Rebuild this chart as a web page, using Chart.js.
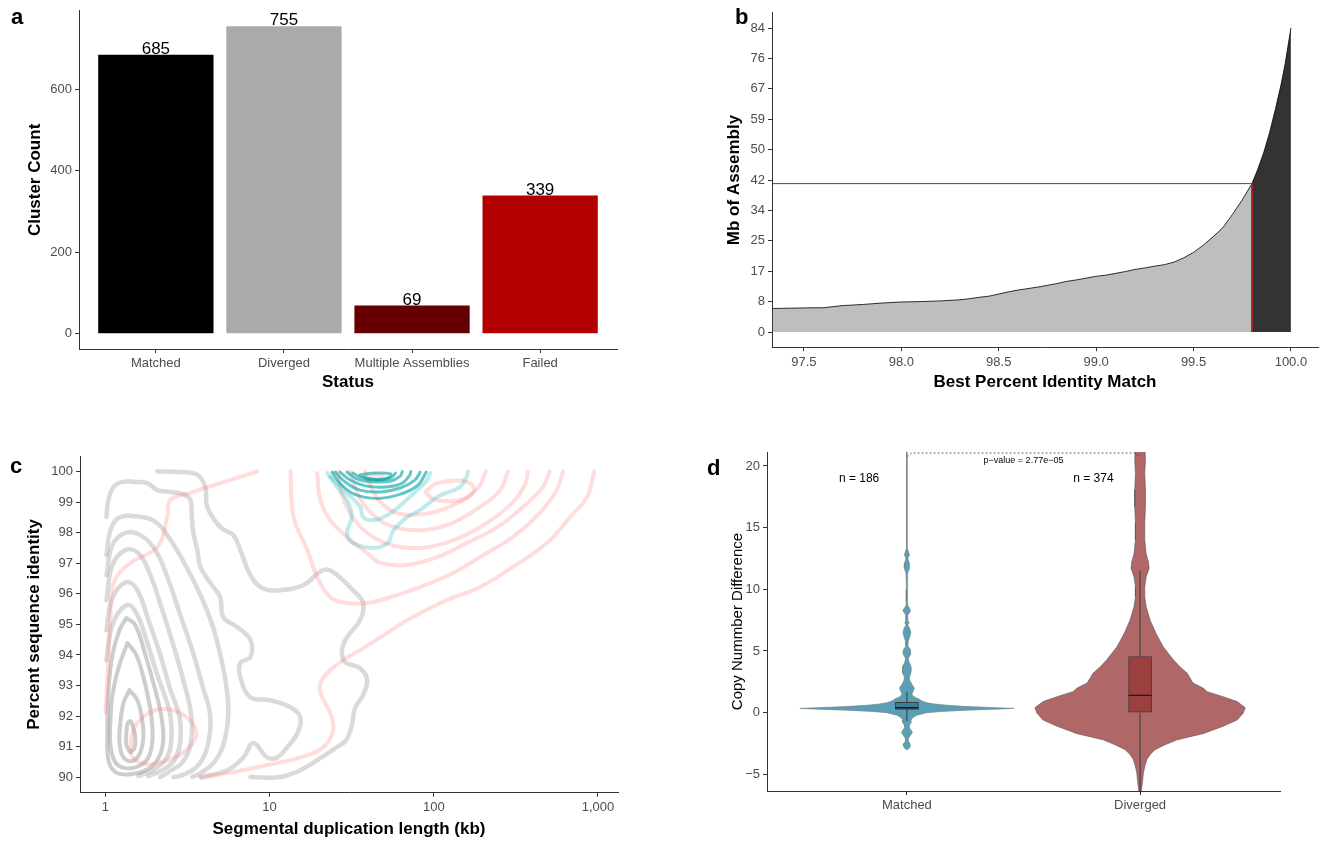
<!DOCTYPE html>
<html>
<head>
<meta charset="utf-8">
<title>Assembly comparison panels</title>
<script src="https://cdn.jsdelivr.net/npm/chart.js@4.4.1/dist/chart.umd.min.js"></script>
<style>
  html, body { margin: 0; background: #fff; }
  body { width: 1323px; height: 842px; position: relative; overflow: hidden; font-family: "Liberation Sans", Arial, sans-serif; }
  .panel { position: absolute; }
  .tag { position: absolute; font-weight: bold; font-size: 22px; line-height: 1; color: #000; }
</style>
</head>
<body>
<div class="panel" style="left:0;top:0;width:660px;height:410px"><canvas id="countChart"></canvas></div>
<div class="panel" style="left:660px;top:0;width:663px;height:410px"><canvas id="identityChart"></canvas></div>
<div class="panel" style="left:0;top:420px;width:660px;height:422px"><canvas id="contourChart"></canvas></div>
<div class="panel" style="left:660px;top:420px;width:663px;height:422px"><canvas id="violinChart"></canvas></div>
<div class="tag" style="left:11px;top:6px">a</div>
<div class="tag" style="left:735px;top:6px">b</div>
<div class="tag" style="left:10px;top:455px">c</div>
<div class="tag" style="left:707px;top:457px">d</div>
<script>
// ---- panel a: cluster status counts ----
const statusLabels = ["Matched", "Diverged", "Multiple Assemblies", "Failed"];
const clusterCounts = [685, 755, 69, 339];
const statusColors = ["#000000", "#aaaaaa", "#660000", "#b20000"];
const countTicks = [0, 200, 400, 600];

// ---- panel b: cumulative Mb by best identity ----
const identityMatch = [97.34, 97.45, 97.55, 97.6, 97.65, 97.7, 97.8, 97.9, 98.0, 98.1, 98.2, 98.3, 98.35, 98.4, 98.45,
  98.5, 98.55, 98.6, 98.65, 98.7, 98.75, 98.8, 98.85, 98.9, 98.95, 99.0, 99.05, 99.1, 99.15, 99.2, 99.25, 99.3,
  99.35, 99.4, 99.45, 99.5, 99.55, 99.6, 99.65, 99.7, 99.75, 99.8, 99.83, 99.86, 99.89, 99.92, 99.95, 99.97, 99.985, 100.0];
const assemblyMb = [6.5, 6.6, 6.7, 6.7, 7.0, 7.3, 7.6, 8.0, 8.3, 8.4, 8.6, 8.9, 9.2, 9.6, 9.9,
  10.5, 11.1, 11.6, 12.0, 12.4, 12.9, 13.4, 14.0, 14.4, 14.9, 15.4, 15.7, 16.2, 16.7, 17.3, 17.7, 18.2,
  18.6, 19.3, 20.5, 22.0, 24.0, 26.3, 28.8, 32.5, 36.5, 41.0, 45.0, 49.5, 55.0, 61.5, 68.5, 74.0, 79.0, 84.0];
const identityCutoff = 99.8;
const cutoffMb = 41;
const identityTicks = [97.5, 98.0, 98.5, 99.0, 99.5, 100.0];
const identityTickLabels = ["97.5", "98.0", "98.5", "99.0", "99.5", "100.0"];
const mbTicks = [0, 8.4, 16.8, 25.2, 33.6, 42, 50.4, 58.8, 67.2, 75.6, 84];
const mbTickLabels = ["0", "8", "17", "25", "34", "42", "50", "59", "67", "76", "84"];

// ---- panel c: density contours, [length kb, percent identity] ----
const grayContours = [
  [[1.419,90.82],[1.342,91.05],[1.342,91.44],[1.361,91.74],[1.419,91.84],[1.480,91.61],[1.522,91.28],[1.501,90.95],[1.419,90.82]],
  [[1.400,92.85],[1.565,92.52],[1.656,92.03],[1.703,91.38],[1.633,90.82],[1.460,90.53],[1.287,90.65],[1.217,91.15],[1.234,91.80],[1.287,92.42],[1.400,92.85]],
  [[1.361,94.39],[1.544,94.00],[1.751,93.01],[1.905,92.00],[1.932,91.21],[1.827,90.65],[1.588,90.36],[1.323,90.30],[1.150,90.49],[1.073,91.05],[1.073,91.87],[1.103,92.69],[1.200,93.57],[1.361,94.39]],
  [[1.342,95.21],[1.522,94.98],[1.751,94.00],[2.014,92.85],[2.19,92.00],[2.25,91.21],[2.10,90.62],[1.801,90.26],[1.419,90.10],[1.150,90.17],[1.043,90.56],[1.028,91.54],[1.043,92.85],[1.103,94.00],[1.217,94.81],[1.342,95.21]],
  [[1.014,93.83],[1.103,94.98],[1.342,95.63],[1.544,95.37],[1.776,94.49],[2.071,93.34],[2.35,92.52],[2.49,92.00],[2.52,91.21],[2.35,90.62],[1.932,90.23],[1.588,90.04]],
  [[1.014,94.81],[1.103,95.86],[1.342,96.38],[1.565,96.12],[1.827,95.14],[2.16,94.00],[2.49,92.85],[2.82,92.00],[2.86,91.21],[2.63,90.56],[2.16,90.20],[1.827,90.04]],
  [[1.014,95.79],[1.103,96.94],[1.323,97.43],[1.588,97.33],[1.878,96.61],[2.22,95.47],[2.59,94.33],[2.98,93.18],[3.34,92.00],[3.29,91.05],[2.94,90.49],[2.42,90.17],[2.16,90.01]],
  [[1.014,96.61],[1.103,97.59],[1.323,97.99],[1.633,97.92],[2.014,97.43],[2.42,96.45],[2.86,95.30],[3.38,94.16],[3.89,93.01],[4.35,92.00],[4.17,90.98],[3.63,90.36],[2.94,90.07],[2.59,90.01]],
  [[1.014,97.27],[1.073,98.08],[1.200,98.48],[1.522,98.54],[2.014,98.35],[2.49,97.76],[3.07,96.94],[3.79,95.96],[4.48,94.98],[5.01,94.00],[5.44,93.01],[5.60,92.03],[5.22,91.05],[4.54,90.46],[3.79,90.14],[3.38,90.01]],
  [[1.014,98.51],[1.043,99.07],[1.119,99.49],[1.269,99.66],[1.522,99.66],[1.801,99.62],[2.071,99.39],[2.49,99.33],[2.98,99.26],[3.29,99.07],[3.36,98.5],[3.43,97.99],[3.63,97.43],[3.79,96.88],[4.54,96.22],[5.01,95.89],[5.22,95.24],[6.36,94.91],[7.64,94.49],[7.64,93.93],[6.63,93.74],[6.63,93.28],[7.64,92.62],[10.1,92.52],[13.4,92.29],[15.4,91.96],[14.75,91.44],[12.8,90.98],[11.1,90.65],[9.68,90.65],[7.96,91.12],[6.92,90.65],[5.52,90.23],[3.79,90.01]],
  [[2.07,100],[2.86,99.98],[3.63,99.89],[4.06,99.49],[4.17,98.84],[5.01,98.18],[6.01,97.92],[6.63,97.43],[7.64,96.61],[9.01,96.19],[11.6,96.12],[16.1,96.29],[21.2,96.78],[24.4,96.71],[32.2,96.12],[37.1,95.70],[35.6,95.14],[29.6,94.58],[27.6,94.16],[28.8,93.77],[35.6,93.57],[39.3,93.18],[37.1,92.69],[33.1,92.26],[31.7,91.70],[29.2,91.21],[25.1,90.95],[19.5,90.56],[15.4,90.23],[11.6,90.01],[7.64,90.01]],
];
const redContours = [
  [[1.00,92.10],[1.028,93.18],[1.073,95.24],[1.119,96.35],[1.419,97.01],[2.071,97.53],[2.385,98.51],[2.49,99.07],[3.29,99.30],[5.01,99.62],[8.42,100]],
  [[1.419,90.82],[1.480,91.54],[1.751,92.03],[2.22,92.23],[2.86,92.10],[3.38,91.77],[3.58,91.38],[3.20,90.95],[2.56,90.62],[1.878,90.43],[1.522,90.56],[1.419,90.82]],
  [[3.84,89.98],[6.01,90.17],[9.68,90.40],[15.4,90.65],[21.2,90.98],[24.4,91.54],[23.4,92.10],[20.4,92.75],[20.4,93.08],[22.5,93.41],[28.0,93.83],[35.6,94.16],[47.4,94.58],[74.6,95.24],[120,95.79],[191,96.22],[304,96.88],[489,97.66],[677,98.51],[859,99.17],[948,100]],
  [[13.4,100],[14.0,98.51],[17.0,97.43],[19.5,96.55],[23.4,95.89],[29.6,95.70],[39.3,95.70],[54.6,95.89],[82.6,96.22],[131,96.68],[191,97.20],[304,97.86],[442,98.64],[560,99.39],[613,100]],
  [[19.5,99.95],[20.4,99.07],[23.4,98.41],[29.6,97.86],[39.3,97.33],[47.4,97.01],[68.8,96.94],[105,97.20],[159,97.66],[244,98.18],[349,98.84],[462,99.49],[508,100]],
  [[26.1,100],[28.0,99.13],[33.6,98.35],[46.1,97.76],[71.5,97.50],[117,97.66],[191,98.18],[292,98.90],[359,99.56],[374,100]],
  [[30.9,100],[34.1,99.30],[41.1,98.67],[54.6,98.22],[82.6,98.08],[125,98.28],[191,98.84],[254,99.39],[283,100]],
  [[38.2,100],[42.3,99.39],[49.5,98.90],[62.5,98.61],[95.3,98.64],[144,99.00],[186,99.46],[208,100]],
  [[88.8,99.33],[102,99.59],[125,99.69],[159,99.66],[176,99.43],[157,99.13],[125,99.03],[99.6,99.10],[88.8,99.33]],
  [[41.1,99.82],[44.8,99.89],[48.8,99.82],[44.8,99.75],[41.1,99.82]],
];
const tealContours = [
  [[22.5,99.95],[25.8,99.49],[29.6,99.07],[31.7,98.51],[29.6,97.99],[32.2,97.66],[42.9,97.50],[52.3,97.66],[56.9,98.08],[68.8,98.51],[82.6,98.74],[105,99.17],[144,99.49],[159,99.85],[162,100]],
  [[23.4,99.83],[29.6,99.30],[35.6,98.84],[37.1,98.51],[42.9,98.41],[52.3,98.58],[65.2,98.97],[79.0,99.39],[91.3,99.72],[95.3,99.95]],
  [[24.0,99.98],[27.0,99.60],[33.0,99.25],[45.0,99.12],[62.0,99.25],[80.0,99.55],[90.0,99.98]],
  [[25.1,99.98],[28.8,99.66],[35.6,99.39],[47.4,99.33],[62.5,99.46],[76.7,99.72],[82.6,99.98]],
  [[26.9,99.98],[30.9,99.72],[38.2,99.53],[50.9,99.49],[64.3,99.62],[71.5,99.89],[72.5,100]],
  [[29.6,99.98],[34.1,99.75],[42.3,99.66],[54.6,99.69],[62.5,99.85],[64.3,100]],
  [[32.2,99.95],[36.6,99.79],[45.4,99.72],[54.6,99.79],[58.5,99.95]],
  [[35.6,99.89],[39.9,99.77],[46.1,99.74],[53.1,99.80],[54.6,99.92],[44.1,99.95],[35.6,99.89]],
];
const lengthTicks = [1, 10, 100, 1000];
const lengthTickLabels = ["1", "10", "100", "1,000"];
const percentTicks = [90, 91, 92, 93, 94, 95, 96, 97, 98, 99, 100];

// ---- panel d: copy number difference violins ----
const groupLabels = ["Matched", "Diverged"];
const groupCounts = [186, 374];
const matchedDensityY = [-3.0, -2.9, -2.7, -2.5, -2.3, -2.1, -1.8, -1.6, -1.4, -1.2, -1.0, -0.8, -0.6, -0.4, -0.2, 0.0, 0.1, 0.2, 0.3, 0.35,
  0.4, 0.5, 0.6, 0.7, 0.8, 0.95, 1.1, 1.3, 1.5, 1.7, 2.0, 2.3, 2.6, 2.9, 3.2, 3.5, 3.8, 4.1, 4.4, 4.7,
  4.9, 5.1, 5.4, 5.8, 6.2, 6.5, 6.8, 7.1, 7.3, 7.5, 7.9, 8.2, 8.4, 8.7, 9.0, 10.0, 11.3, 11.7, 12.1, 12.5, 12.8, 13.1, 13.4, 21.2];
const matchedDensityW = [0, 0.009, 0.015, 0.013, 0.006, 0.006, 0.017, 0.024, 0.017, 0.009, 0.011, 0.019, 0.017, 0.026, 0.043, 0.086, 0.150, 0.258, 0.408, 0.459,
  0.386, 0.258, 0.172, 0.120, 0.086, 0.064, 0.052, 0.030, 0.021, 0.026, 0.032, 0.021, 0.013, 0.011, 0.017, 0.019, 0.017, 0.009, 0.006, 0.015,
  0.017, 0.015, 0.004, 0.006, 0.013, 0.017, 0.013, 0.004, 0.009, 0.004, 0.004, 0.015, 0.013, 0.004, 0.003, 0.002, 0.004, 0.011, 0.011, 0.004, 0.011, 0.006, 0.001, 0.001];
const divergedDensityY = [-6.6, -5.5, -4.9, -4.3, -3.8, -3.4, -3.0, -2.6, -2.2, -1.7, -1.1, -0.6, -0.05, 0.4, 0.9, 1.3, 1.7, 2.0, 2.4, 3.2,
  3.7, 4.3, 5.35, 6.4, 7.5, 8.6, 9.4, 10.2, 11.0, 11.7, 12.2, 12.9, 14.0, 15.4, 16.7, 18.05, 19.4, 20.5, 21.5];
const divergedDensityW = [0.004, 0.011, 0.014, 0.021, 0.029, 0.043, 0.064, 0.107, 0.159, 0.270, 0.356, 0.416, 0.442, 0.451, 0.416, 0.356, 0.288, 0.270, 0.227, 0.202,
  0.172, 0.142, 0.099, 0.069, 0.043, 0.026, 0.020, 0.020, 0.026, 0.039, 0.036, 0.026, 0.020, 0.020, 0.023, 0.023, 0.020, 0.023, 0.021];
const boxQ1 = [0.27, 0.0];
const boxMedian = [0.4, 1.4];
const boxQ3 = [0.84, 4.55];
const whiskerLow = [-0.68, -6.6];
const whiskerHigh = [1.7, 11.5];
const copyTicks = [-5, 0, 5, 10, 15, 20];
const copyTickLabels = ["\u22125", "0", "5", "10", "15", "20"];
const pValueText = "p\u2212value = 2.77e\u221205";

// ---- shared styling ----
const FONT = "'Liberation Sans', Arial, Helvetica, sans-serif";
Chart.defaults.font.family = FONT;
Chart.defaults.animation = false;
Chart.defaults.events = [];
Chart.defaults.plugins.legend.display = false;
Chart.defaults.plugins.tooltip.enabled = false;

const AXIS = "#333333";
const TICK_TEXT = "#4d4d4d";
const boldTitle = { size: 17, weight: "bold" };

const makeAxis = ({ type = "linear", position, min, max, values, labels, title, titleFont = boldTitle, titlePad, size }) => ({
  type,
  position,
  min,
  max,
  offset: false,
  border: { display: true, color: AXIS, width: 1 },
  grid: { display: true, offset: false, drawOnChartArea: false, drawTicks: true, tickLength: 4, tickColor: AXIS },
  ticks: {
    color: TICK_TEXT,
    font: { size: 13 },
    padding: 3,
    maxRotation: 0,
    minRotation: 0,
    autoSkip: false,
    callback: (value, index) => labels[index],
  },
  title: title
    ? { display: true, text: title, color: "#000", font: titleFont, padding: titlePad }
    : { display: false },
  afterBuildTicks: (scale) => {
    scale.ticks = values.map((value) => ({ value }));
  },
  afterFit: (scale) => {
    if (scale.isHorizontal()) {
      scale.height = size;
    } else {
      scale.width = size;
    }
  },
});

const textPlugin = (id, items) => ({
  id,
  afterDatasetsDraw(chart) {
    const { ctx, scales: { x, y } } = chart;
    ctx.save();
    ctx.fillStyle = "#000";
    ctx.textAlign = "center";
    items.forEach((item) => {
      ctx.font = item.font;
      ctx.textBaseline = item.baseline || "middle";
      ctx.fillText(item.text, x.getPixelForValue(item.x), y.getPixelForValue(item.y) + (item.dy || 0));
    });
    ctx.restore();
  },
});

// ---- panel a ----
new Chart(document.getElementById("countChart"), {
  type: "bar",
  data: {
    datasets: [{
      data: clusterCounts.map((count, i) => ({ x: i + 1, y: count })),
      backgroundColor: statusColors,
      barPercentage: 0.9,
      categoryPercentage: 1,
    }],
  },
  options: {
    responsive: true,
    maintainAspectRatio: false,
    layout: { padding: { left: 0, top: 9, right: 43, bottom: 0 } },
    scales: {
      x: makeAxis({ position: "bottom", min: 0.4, max: 4.6, values: [1, 2, 3, 4], labels: statusLabels,
        title: "Status", titlePad: { top: 0, bottom: 17.8 }, size: 61 }),
      y: makeAxis({ position: "left", min: -37.75, max: 792.75, values: countTicks, labels: countTicks.map(String),
        title: "Cluster Count", titlePad: { top: 24.8, bottom: 0 }, size: 79 }),
    },
  },
  plugins: [textPlugin("countLabels", clusterCounts.map((count, i) => ({
    text: String(count), x: i + 1, y: count, dy: -1, baseline: "alphabetic", font: `17px ${FONT}`,
  })))],
});

// ---- panel b ----
const identityPoints = identityMatch.map((x, i) => ({ x, y: assemblyMb[i] }));

new Chart(document.getElementById("identityChart"), {
  type: "line",
  data: {
    datasets: [
      {
        data: [
          { x: identityMatch[0], y: cutoffMb },
          { x: identityCutoff, y: cutoffMb },
          { x: identityCutoff, y: 0 },
        ],
        borderColor: "#b22222",
        borderWidth: 1,
        pointRadius: 0,
        fill: false,
        order: 0,
      },
      {
        data: identityPoints.filter((p) => p.x >= identityCutoff),
        borderColor: "#000000",
        borderWidth: 0.8,
        backgroundColor: "#333333",
        pointRadius: 0,
        fill: "origin",
        order: 1,
      },
      {
        data: identityPoints.filter((p) => p.x <= identityCutoff),
        borderColor: "#000000",
        borderWidth: 0.8,
        backgroundColor: "#bebebe",
        pointRadius: 0,
        fill: "origin",
        order: 2,
      },
    ],
  },
  options: {
    responsive: true,
    maintainAspectRatio: false,
    layout: { padding: { left: 0, top: 12.8, right: 5, bottom: 0 } },
    scales: {
      x: makeAxis({ position: "bottom", min: 97.336, max: 100.139, values: identityTicks, labels: identityTickLabels,
        title: "Best Percent Identity Match", titlePad: { top: 0, bottom: 17.8 }, size: 62.8 }),
      y: makeAxis({ position: "left", min: -4.2, max: 88.2, values: mbTicks, labels: mbTickLabels,
        title: "Mb of Assembly", titlePad: { top: 63.8, bottom: 0 }, size: 112 }),
    },
  },
});

// ---- panel c ----
const contourSet = (points, color, width, order) => ({
  data: points.map(([x, y]) => ({ x, y })),
  borderColor: color,
  borderWidth: width,
  pointRadius: 0,
  tension: 0.4,
  fill: false,
  borderCapStyle: "round",
  borderJoinStyle: "round",
  order,
});

new Chart(document.getElementById("contourChart"), {
  type: "line",
  data: {
    datasets: [
      ...tealContours.map((pts, i) => contourSet(pts, i < 2 ? "rgba(0,175,175,0.25)" : "rgba(0,160,160,0.6)", i < 2 ? 4 : 3, 0)),
      ...redContours.map((pts) => contourSet(pts, "rgba(255,120,120,0.25)", 4, 1)),
      ...grayContours.map((pts, i) => contourSet(pts, i < 4 ? "rgba(130,130,130,0.4)" : "rgba(150,150,150,0.35)", i < 4 ? 4 : 4.5, 2)),
    ],
  },
  options: {
    responsive: true,
    maintainAspectRatio: false,
    layout: { padding: { left: 0, top: 36.2, right: 42, bottom: 0 } },
    scales: {
      x: makeAxis({ type: "logarithmic", position: "bottom", min: 0.704, max: 1325, values: lengthTicks, labels: lengthTickLabels,
        title: "Segmental duplication length (kb)", titlePad: { top: 0, bottom: 2.8 }, size: 49.4 }),
      y: makeAxis({ position: "left", min: 89.5, max: 100.5, values: percentTicks, labels: percentTicks.map(String),
        title: "Percent sequence identity", titlePad: { top: 23.8, bottom: 0 }, size: 80 }),
    },
  },
});

// ---- panel d ----
const violinShape = (center, ys, ws) => {
  const right = ys.map((y, i) => ({ x: center + ws[i], y }));
  const left = ys.map((y, i) => ({ x: center - ws[i], y })).reverse();
  return [...right, ...left];
};
const boxHalf = 0.05;
const medianSegments = [];
const whiskerSegments = [];
groupLabels.forEach((_, i) => {
  const c = i + 1;
  medianSegments.push({ x: c - boxHalf, y: boxMedian[i] }, { x: c + boxHalf, y: boxMedian[i] }, { x: c + 0.5, y: null });
  whiskerSegments.push(
    { x: c, y: whiskerLow[i] }, { x: c, y: boxQ1[i] }, { x: c, y: null },
    { x: c, y: boxQ3[i] }, { x: c, y: whiskerHigh[i] }, { x: c + 0.5, y: null },
  );
});

new Chart(document.getElementById("violinChart"), {
  type: "line",
  data: {
    datasets: [
      {
        data: [{ x: 1, y: 20.75 }, { x: 1.02, y: 21.05 }, { x: 1.98, y: 21.05 }, { x: 2, y: 20.75 }],
        borderColor: "#444444",
        borderWidth: 0.8,
        borderDash: [2, 2],
        pointRadius: 0,
        fill: false,
        clip: 4,
        order: 0,
      },
      {
        data: medianSegments,
        borderColor: "#1a1a1a",
        borderWidth: 1.4,
        pointRadius: 0,
        fill: false,
        order: 1,
      },
      {
        type: "bar",
        data: groupLabels.map((_, i) => ({ x: i + 1, y: [boxQ1[i], boxQ3[i]] })),
        backgroundColor: ["#3d7d94", "#9b3f3f"],
        borderColor: "#3a3a3a",
        borderWidth: 1,
        borderSkipped: false,
        barThickness: 23,
        order: 2,
      },
      {
        data: whiskerSegments,
        borderColor: "#3a3a3a",
        borderWidth: 1,
        pointRadius: 0,
        fill: false,
        order: 3,
      },
      {
        data: violinShape(1, matchedDensityY, matchedDensityW),
        borderColor: "#7a7a7a",
        borderWidth: 0.6,
        backgroundColor: "#59a0b7",
        pointRadius: 0,
        fill: "shape",
        order: 4,
      },
      {
        data: violinShape(2, divergedDensityY, divergedDensityW),
        borderColor: "#555555",
        borderWidth: 0.6,
        backgroundColor: "#b06767",
        pointRadius: 0,
        fill: "shape",
        order: 5,
      },
    ],
  },
  options: {
    responsive: true,
    maintainAspectRatio: false,
    layout: { padding: { left: 0, top: 32, right: 43, bottom: 0 } },
    scales: {
      x: makeAxis({ position: "bottom", min: 0.4, max: 2.6, values: [1, 2], labels: groupLabels, size: 51 }),
      y: makeAxis({ position: "left", min: -6.35, max: 21.13, values: copyTicks, labels: copyTickLabels,
        title: "Copy Nummber Difference", titleFont: { size: 15, weight: "normal" }, titlePad: { top: 69, bottom: 0 }, size: 107 }),
    },
  },
  plugins: [textPlugin("violinLabels", [
    { text: pValueText, x: 1.5, y: 20.48, font: `9px ${FONT}` },
    { text: `n = ${groupCounts[0]}`, x: 0.795, y: 19.0, font: `12px ${FONT}` },
    { text: `n = ${groupCounts[1]}`, x: 1.8, y: 19.0, font: `12px ${FONT}` },
  ])],
});
</script>
</body>
</html>
